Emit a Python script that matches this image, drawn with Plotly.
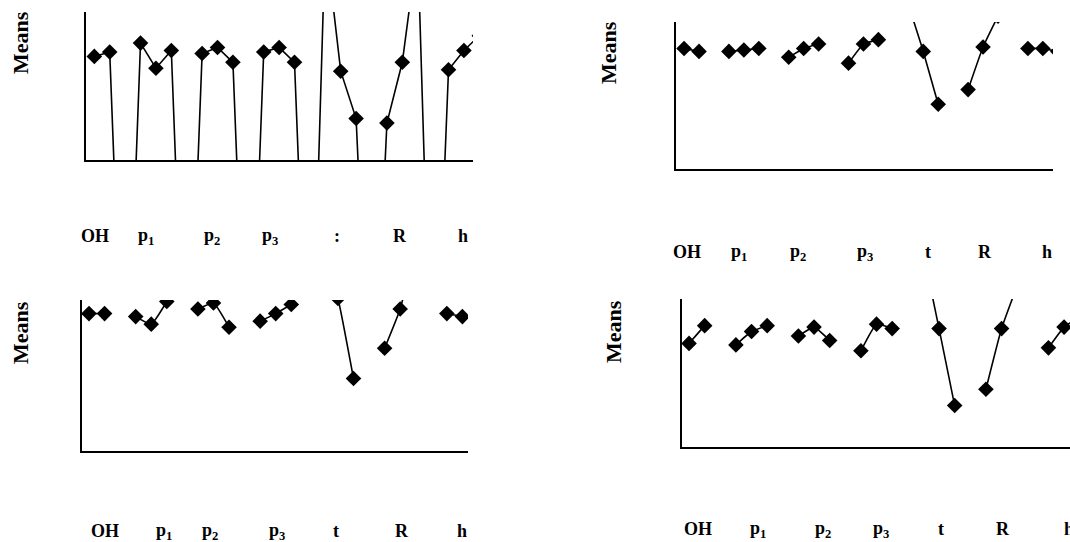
import plotly.graph_objects as go

W, H = 1070, 542

# ---- data -------------------------------------------------------------
factor_labels_p1 = ["OH", "p<sub>1</sub>", "p<sub>2</sub>", "p<sub>3</sub>", ":", "R", "h"]
factor_labels = ["OH", "p<sub>1</sub>", "p<sub>2</sub>", "p<sub>3</sub>", "t", "R", "h"]

# panel 1 (top-left): groups joined through very low separator values
means_1 = [70, 73, -200, 79, 62, 74, -200, 72, 76, 66, -200, 73, 76, 66, -200,
           150, 60, 28, -200, 25, 66, 145, -200, 61, 74, 84]
# panel 2 (top-right)
means_2 = [82, 80, None, 80, 81, 82, None, 76, 82, 85, None, 72, 85, 88, None,
           112, 80, 44, None, 54, 83, 104, None, 82, 82, 80]
# panel 3 (bottom-left)
means_3 = [91, 91, None, 89, 84, 99, None, 94, 98, 82, None, 86, 91, 97, None,
           130, 101, 48, None, 68, 94, 137, None, 91, 89, 88]
# panel 4 (bottom-right)
means_4 = [70, 82, None, 69, 78, 82, None, 75, 81, 72, None, 65, 83, 80, None,
           131, 80, 28, None, 39, 80, 109, None, 67, 81, 88]

panels = [means_1, means_2, means_3, means_4]
panel_labels = [factor_labels_p1, factor_labels, factor_labels, factor_labels]

# ---- layout config ----------------------------------------------------
boxes = [(86, 473, 12, 160), (676, 1053, 22, 169), (82, 468, 300, 451), (682, 1070, 299, 447)]
xranges = [(-0.54, 24.59), (-0.54, 24.68), (-0.45, 24.36), (-0.45, 24.38)]
label_pos = [
    [0.05, 3.36, 7.64, 11.4, 15.76, 19.85, 23.95],
    [0.2, 3.7, 7.6, 12.1, 16.3, 20.1, 24.3],
    [1.0, 4.8, 7.8, 12.1, 15.9, 20.1, 24.0],
    [0.6, 4.4, 8.6, 12.3, 16.1, 20.1, 24.3],
]
label_offset = [76, 83, 80, 82]
means_label_xy = [(20, 43), (608, 53), (20, 333), (613, 332)]
line_shapes = ["linear", "spline", "spline", "spline"]

fig = go.Figure()
annotations = []
for i, vals in enumerate(panels):
    ax = "" if i == 0 else str(i + 1)
    fig.add_trace(go.Scatter(
        x=list(range(len(vals))), y=vals,
        mode="lines+markers",
        line=dict(color="black", width=1.6, shape=line_shapes[i], smoothing=0.4),
        marker=dict(symbol="diamond", size=12, color="black"),
        connectgaps=False,
        xaxis="x" + ax, yaxis="y" + ax,
        showlegend=False, cliponaxis=True,
    ))
    l, r, t, b = boxes[i]
    xd = [l / W, min(r / W, 1.0)]
    yd = [1 - b / H, 1 - t / H]
    common = dict(showgrid=False, zeroline=False, showticklabels=False, ticks="",
                  showline=True, linecolor="black", linewidth=2.2)
    fig.update_layout(**{
        "xaxis" + ax: dict(domain=xd, range=list(xranges[i]), anchor="y" + ax, **common),
        "yaxis" + ax: dict(domain=yd, range=[0, 100], anchor="x" + ax, **common),
    })
    for lab, pos in zip(panel_labels[i], label_pos[i]):
        annotations.append(dict(
            text="<b>" + lab + "</b>", x=pos, y=0, xref="x" + ax, yref="y" + ax + " domain",
            yshift=-label_offset[i], showarrow=False, xanchor="center", yanchor="middle",
            font=dict(family="Liberation Serif", size=18, color="black")))
    mx, my = means_label_xy[i]
    annotations.append(dict(
        text="<b>Means</b>", x=mx / W, y=1 - my / H, xref="paper", yref="paper",
        textangle=-90, showarrow=False, xanchor="center", yanchor="middle",
        font=dict(family="Liberation Serif", size=22, color="black")))

fig.update_layout(
    width=W, height=H, margin=dict(l=0, r=0, t=0, b=0),
    paper_bgcolor="white", plot_bgcolor="white",
    annotations=annotations,
)
fig.write_html("out.html", config={"displayModeBar": False},
               post_script="document.body.style.margin='0px';document.body.style.overflow='hidden';")
